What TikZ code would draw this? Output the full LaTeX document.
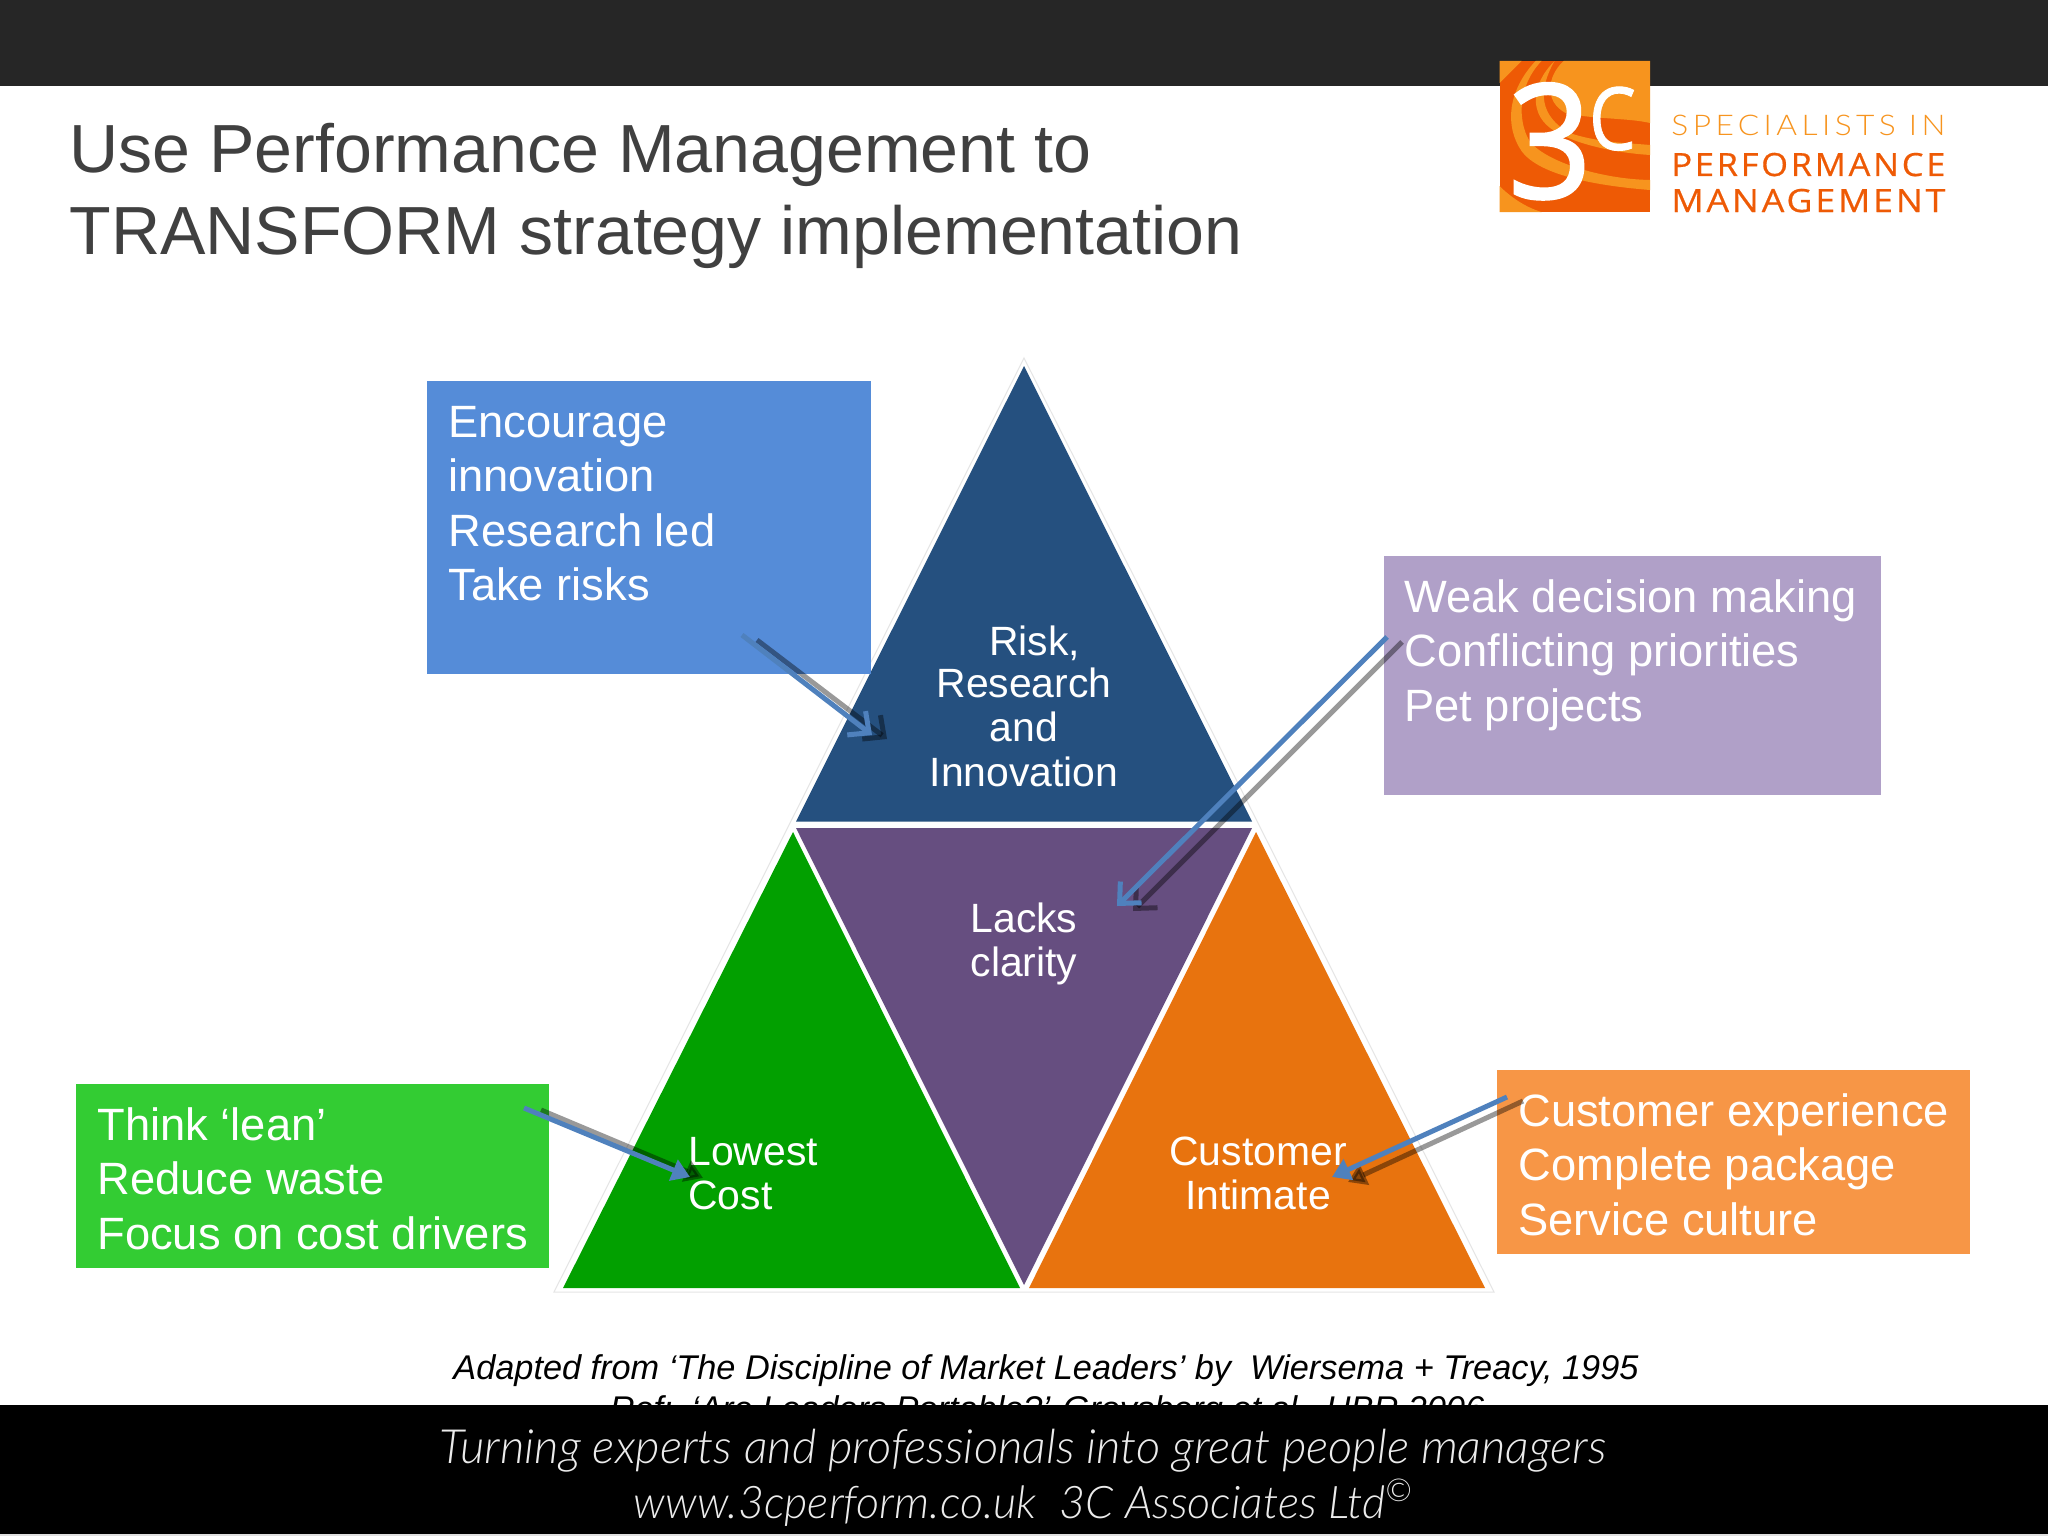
\documentclass[tikz,border=0pt]{standalone}
\usepackage{fontspec}
\usepackage{graphicx}
\usetikzlibrary{arrows.meta}
\setmainfont{Liberation Sans}
\newfontfamily\logolight[LetterSpace=14]{Lato Light}
\newfontfamily\logoreg[LetterSpace=8,FakeBold=0.5]{Open Sans}
\newfontfamily\logomark[FakeBold=1.5]{Open Sans}
\newfontfamily\logomarkc[FakeBold=1]{Open Sans}
\newfontfamily\handfont[ItalicFont={Lato Light Italic}]{Lato Light}
\definecolor{topbar}{HTML}{262626}
\definecolor{titlegray}{HTML}{404040}
\definecolor{triblue}{HTML}{25507F}
\definecolor{tripurple}{HTML}{664E80}
\definecolor{trigreen}{HTML}{02A000}
\definecolor{triorange}{HTML}{E8730E}
\definecolor{boxblue}{HTML}{558CD8}
\definecolor{boxpurple}{HTML}{B0A0C8}
\definecolor{boxgreen}{HTML}{33CC33}
\definecolor{boxorange}{HTML}{F79646}
\definecolor{arrowblue}{HTML}{4F81BD}
\definecolor{logodark}{HTML}{EE5A05}
\definecolor{logolightc}{HTML}{F7941E}
\tikzset{
  x=0.5pt,y=-0.5pt,
  band/.style={fill=#1,draw=none},
  calloutbox/.style={draw=none,inner sep=0pt,anchor=north west},
  boxtext/.style={anchor=north west,inner sep=0pt,align=left,text=white,font=\fontsize{22.65}{27.25}\selectfont},
  trilabel/.style={inner sep=0pt,text=white,font=\fontsize{20.45}{22.2}\selectfont},
  titletext/.style={anchor=base west,inner sep=0pt,text=titlegray,font=\fontsize{34.05}{41}\selectfont},
  captiontext/.style={anchor=base,inner sep=0pt,text=black,font=\fontsize{17.15}{20}\selectfont\itshape},
  handtext/.style={anchor=base,inner sep=0pt,text=white!92!black},
  logotext/.style={anchor=base west,inner sep=0pt},
  openarrow/.style={line width=2.5pt,-{Straight Barb[length=8pt,width=15pt,line width=2.5pt]},arrowblue},
  openshadow/.style={line width=2.5pt,-{Straight Barb[length=8pt,width=15pt,line width=2.5pt]},black,opacity=.4},
  solidarrow/.style={line width=2.5pt,-{Triangle[length=9pt,width=11pt]},arrowblue},
  solidshadow/.style={line width=2.5pt,-{Triangle[length=9pt,width=11pt]},black,opacity=.4},
}
\begin{document}
\begin{tikzpicture}
\useasboundingbox (0,0) rectangle (2048,1536);
\fill[white] (0,0) rectangle (2048,1536);
% bars and caption (second caption line runs under the footer)
\node[captiontext] (caption1) at (1046,1379) {Adapted from ‘The Discipline of Market Leaders’ by\ \ Wiersema + Treacy, 1995};
\node[captiontext] (caption2) at (1047,1420) {Ref:\ \ ‘Are Leaders Portable?’ Groysberg et al., HBR 2006};
\fill[topbar] (0,0) rectangle (2048,86);
\fill[black] (0,1405) rectangle (2048,1534);
\fill[black!12] (0,1534) rectangle (2048,1536);
% title
\node[titletext] (title1) at (69,172.5) {Use Performance Management to};
\node[titletext] (title2) at (69,254.5) {TRANSFORM strategy implementation};
% logo
\begin{scope}[shift={(1499.5,61)}]
  \fill[logodark] (0,0) rectangle (150.5,151);
  \path[band=logolightc] (64,0) .. controls (48,15) and (44,40) .. (66,52) .. controls (90,58) and (130,57) .. (150.5,62) -- (150.5,0) -- cycle;
  \path[band=logolightc] (55,0) .. controls (38,30) and (40,55) .. (70,72) .. controls (100,82) and (130,82) .. (150.5,84) -- (150.5,94) .. controls (120,92) and (80,85) .. (55,70) .. controls (30,55) and (30,25) .. (55,0) -- cycle;
  \path[band=logolightc] (42,0) .. controls (18,25) and (18,60) .. (30,80) .. controls (45,100) and (100,118) .. (150.5,119) -- (150.5,129) .. controls (100,125) and (40,115) .. (22,90) .. controls (5,65) and (8,30) .. (36,0) -- cycle;
  \path[band=logolightc] (0,0) -- (22,0) -- (0,22) -- cycle;
  \path[band=logolightc] (0,125) .. controls (10,135) and (25,146) .. (42,151) -- (0,151) -- cycle;
  \node[inner sep=0pt,anchor=south west,text=white] (logothree) at (8,139) {\resizebox{42pt}{57.5pt}{\logomark 3}};
  \node[inner sep=0pt,anchor=south west,text=white] (logoc) at (89,90) {\resizebox{23.5pt}{31.5pt}{\logomarkc C}};
\end{scope}
\node[logotext,text=logolightc] (logo1) at (1671,135) {\resizebox{137pt}{10.2pt}{\logolight SPECIALISTS IN}};
\node[logotext,text=logodark] (logo2) at (1671,176) {\resizebox{137pt}{11.6pt}{\logoreg PERFORMANCE}};
\node[logotext,text=logodark] (logo3) at (1671,212) {\resizebox{137pt}{11.6pt}{\logoreg MANAGEMENT}};
% faint outline of the pyramid
\coordinate (oa) at (1024,358);
\coordinate (ol) at (554,1292);
\coordinate (or) at (1494,1292);
\draw[black!10,line width=.5pt] (oa) -- (ol) -- (or) -- cycle;
% triangles
\coordinate (ta) at (1024,366);
\coordinate (tl) at (796,821.5);
\coordinate (tr) at (1252,821.5);
\coordinate (pl) at (796,828);
\coordinate (pr) at (1252,828);
\coordinate (pb) at (1024,1285);
\coordinate (ga) at (793,832);
\coordinate (gl) at (563,1288);
\coordinate (gr) at (1020,1288);
\coordinate (oga) at (1256,832);
\coordinate (ogl) at (1029,1288);
\coordinate (ogr) at (1485,1288);
\fill[triblue] (ta) -- (tl) -- (tr) -- cycle;
\fill[tripurple] (pl) -- (pr) -- (pb) -- cycle;
\fill[trigreen] (ga) -- (gl) -- (gr) -- cycle;
\fill[triorange] (oga) -- (ogl) -- (ogr) -- cycle;
% triangle labels
\node[trilabel,anchor=north,align=center] (risk) at (1024,625) {\hspace*{10.5pt}Risk,\\[-1pt]Research\\and\\Innovation};
\node[trilabel,anchor=north,align=center] (lacks) at (1024,902) {Lacks\\clarity};
\node[trilabel,anchor=north west,align=left] (lowest) at (688,1136.5) {Lowest\\Cost};
\node[trilabel,anchor=north,align=center] (customer) at (1258,1136.5) {Customer\\Intimate};
% callout boxes
\node[calloutbox,fill=boxblue,minimum width=222pt,minimum height=146.5pt] (bluebox) at (427,381) {};
\node[calloutbox,fill=boxpurple,minimum width=248.5pt,minimum height=119.5pt] (purplebox) at (1384,556) {};
\node[calloutbox,fill=boxgreen,minimum width=236.5pt,minimum height=92pt] (greenbox) at (76,1084) {};
\node[calloutbox,fill=boxorange,minimum width=236.5pt,minimum height=92pt] (orangebox) at (1497,1070) {};
\node[boxtext] (bluetext) at (448,405.5) {Encourage\\innovation\\Research led\\Take risks};
\node[boxtext] (purpletext) at (1404,579) {Weak decision making\\Conflicting priorities\\Pet projects};
\node[boxtext] (greentext) at (97,1107) {Think ‘lean’\\Reduce waste\\Focus on cost drivers};
\node[boxtext] (orangetext) at (1518,1093) {Customer experience\\Complete package\\Service culture};
% arrows
\coordinate (a1s) at (757,640); \coordinate (a1e) at (887,739);
\coordinate (b1s) at (742,635); \coordinate (b1e) at (872,735);
\coordinate (a2s) at (1402,642); \coordinate (a2e) at (1133,911);
\coordinate (b2s) at (1387,637); \coordinate (b2e) at (1117,906);
\coordinate (a3s) at (541,1110); \coordinate (a3e) at (703,1178);
\coordinate (b3s) at (524,1108); \coordinate (b3e) at (690,1177);
\coordinate (a4s) at (1523,1101); \coordinate (a4e) at (1348,1182);
\coordinate (b4s) at (1507,1097); \coordinate (b4e) at (1332,1177);
\draw[openshadow] (a1s) -- (a1e);
\draw[openarrow] (b1s) -- (b1e);
\draw[openshadow] (a2s) -- (a2e);
\draw[openarrow] (b2s) -- (b2e);
\draw[solidshadow] (a3s) -- (a3e);
\draw[solidarrow] (b3s) -- (b3e);
\draw[solidshadow] (a4s) -- (a4e);
\draw[solidarrow] (b4s) -- (b4e);
% footer
\node[handtext] (foot1) at (1023,1463) {\resizebox{583pt}{!}{\handfont\itshape Turning experts and professionals into great people managers}};
\node[handtext] (foot2) at (1024,1518) {\resizebox{390pt}{!}{\handfont\itshape www.3cperform.co.uk\ \ 3C Associates Ltd\textsuperscript{©}}};
\end{tikzpicture}
\end{document}
